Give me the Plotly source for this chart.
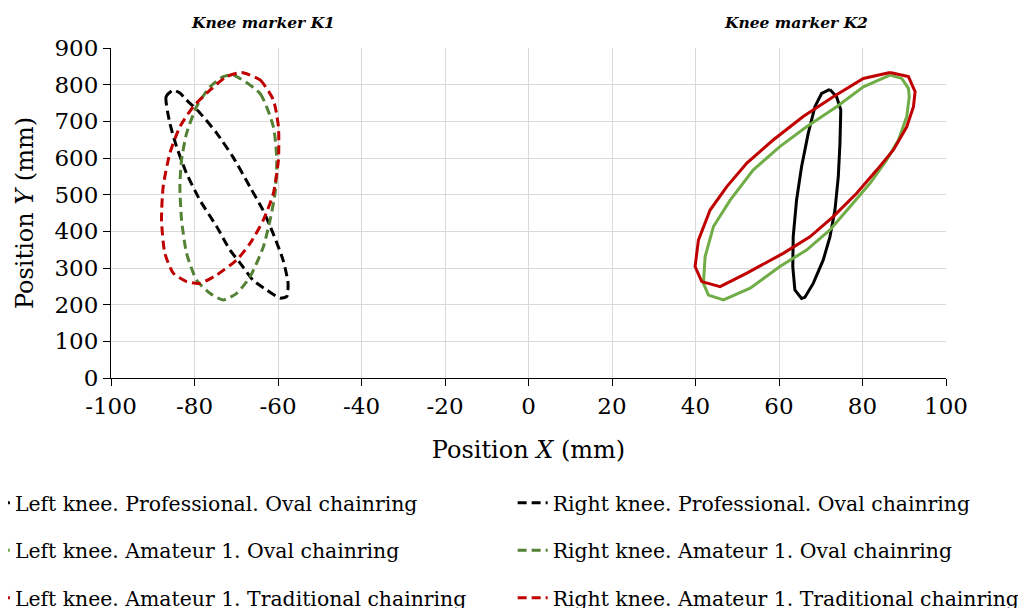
import plotly.graph_objects as go

# ---- Data ----
# Right knee (dashed loops, negative X)
rp_x = [-85.1, -86.8, -85.9, -84.3, -81.9, -78.7, -74.7, -71.5, -69.1, -66.0, -62.7, -59.5, -57.9, -57.6, -58.8, -61.2, -63.6, -66.7, -70.8, -74.7, -78.7, -81.9, -83.5, -85.1]
rp_y = [785, 767, 695, 631, 558, 485, 413, 349, 314, 267, 240, 218, 222, 259, 322, 395, 458, 521, 603, 668, 723, 758, 777, 785]

ra_x = [-70.7, -64.3, -61.1, -60.3, -60.7, -61.9, -63.5, -66.7, -69.9, -73.1, -76.3, -79.5, -81.9, -83.1, -83.5, -83.1, -81.9, -79.5, -76.3, -73.1, -70.7]
ra_y = [826, 776, 685, 595, 504, 431, 358, 276, 231, 213, 231, 267, 340, 431, 522, 595, 667, 740, 794, 822, 826]

rt_x = [-68.7, -64.3, -61.1, -59.9, -59.9, -61.1, -63.5, -66.7, -69.9, -74.7, -78.7, -81.9, -85.1, -87.1, -87.9, -87.5, -85.9, -83.5, -80.3, -76.3, -72.3, -68.7]
rt_y = [833, 813, 758, 685, 595, 504, 431, 367, 322, 281, 258, 263, 286, 340, 431, 522, 613, 685, 740, 785, 822, 833]

# Left knee (solid loops, positive X)
lp_x = [72.2, 73.8, 74.8, 74.6, 74.2, 73.4, 72.2, 70.6, 68.2, 66.2, 65.4, 63.8, 63.3, 63.4, 64.2, 65.4, 67.0, 68.6, 70.2, 72.2]
lp_y = [787, 767, 731, 640, 549, 458, 385, 322, 258, 220, 217, 240, 304, 385, 485, 576, 667, 740, 776, 787]

la_x = [86.6, 89.4, 91.0, 91.2, 90.6, 88.6, 85.8, 81.8, 77.0, 72.2, 66.6, 60.2, 53.1, 46.7, 43.1, 41.9, 42.3, 44.3, 48.3, 53.8, 60.2, 66.6, 73.8, 80.2, 86.6]
la_y = [826, 817, 790, 767, 713, 649, 595, 531, 467, 404, 349, 304, 245, 213, 226, 258, 331, 413, 485, 567, 631, 685, 740, 794, 826]

lt_x = [86.6, 91.0, 92.6, 92.2, 90.6, 87.4, 83.4, 78.6, 73.0, 67.4, 61.0, 52.3, 45.9, 41.5, 39.9, 40.7, 43.5, 47.5, 52.3, 58.6, 65.8, 73.0, 80.2, 86.6]
lt_y = [833, 822, 781, 740, 685, 622, 567, 504, 440, 385, 340, 286, 249, 263, 304, 376, 458, 522, 586, 649, 713, 767, 817, 833]

x_tickvals = [-100, -80, -60, -40, -20, 0, 20, 40, 60, 80, 100]
x_ticktext = ["-100", "-80", "-60", "-40", "-20", "0", "20", "40", "60", "80", "100"]
y_tickvals = [0, 100, 200, 300, 400, 500, 600, 700, 800, 900]

titles = ["Knee marker K1", "Knee marker K2"]
title_x = [-63.6, 64]

FONT = "DejaVu Serif"

fig = go.Figure()

solid_series = [
    ("Left knee. Professional. Oval chainring", lp_x, lp_y, "#000000"),
    ("Left knee. Amateur 1. Oval chainring", la_x, la_y, "#70AD47"),
    ("Left knee. Amateur 1. Traditional chainring", lt_x, lt_y, "#C00000"),
]
dashed_series = [
    ("Right knee. Professional. Oval chainring", rp_x, rp_y, "#000000"),
    ("Right knee. Amateur 1. Oval chainring", ra_x, ra_y, "#548235"),
    ("Right knee. Amateur 1. Traditional chainring", rt_x, rt_y, "#C00000"),
]

for i, (name, xs, ys, col) in enumerate(solid_series):
    fig.add_trace(go.Scatter(x=xs, y=ys, mode="lines", name=name,
                             line=dict(color=col, width=3),
                             legend="legend", legendgroup="s%d" % i))
for i, (name, xs, ys, col) in enumerate(dashed_series):
    fig.add_trace(go.Scatter(x=xs, y=ys, mode="lines", name=name,
                             line=dict(color=col, width=3, dash="9px,5px",
                                       shape="spline", smoothing=0.6),
                             legend="legend2", legendgroup="d%d" % i))

for t, tx in zip(titles, title_x):
    fig.add_annotation(x=tx, y=1.0, xref="x", yref="paper", yanchor="bottom",
                       yshift=14, text="<b><i>%s</i></b>" % t, showarrow=False,
                       font=dict(family=FONT, size=15.5, color="black"))

axis_common = dict(showgrid=True, gridcolor="#d9d9d9", gridwidth=1,
                   showline=True, linecolor="black", linewidth=1,
                   ticks="outside", ticklen=7, tickcolor="black",
                   zeroline=False,
                   tickfont=dict(family=FONT, size=23, color="black"))

fig.update_xaxes(range=[-100, 100], tickvals=x_tickvals, ticktext=x_ticktext,
                 title=dict(text="Position <i>X</i> (mm)",
                            font=dict(family=FONT, size=24, color="black"),
                            standoff=23),
                 **axis_common)
fig.update_yaxes(range=[0, 900], tickvals=y_tickvals,
                 title=dict(text="Position <i>Y</i> (mm)",
                            font=dict(family=FONT, size=24, color="black"),
                            standoff=14),
                 **axis_common)

legend_common = dict(orientation="v", xanchor="left", yanchor="top",
                     bgcolor="rgba(0,0,0,0)", borderwidth=0,
                     tracegroupgap=18,
                     font=dict(family=FONT, size=20.4, color="black"))

fig.update_layout(
    width=1026, height=608,
    margin=dict(l=103, r=88, t=40, b=238, autoexpand=False),
    plot_bgcolor="white", paper_bgcolor="white",
    legend=dict(x=-0.163, y=-0.318, **legend_common),
    legend2=dict(x=0.481, y=-0.318, **legend_common),
)

fig.write_html("out.html")
